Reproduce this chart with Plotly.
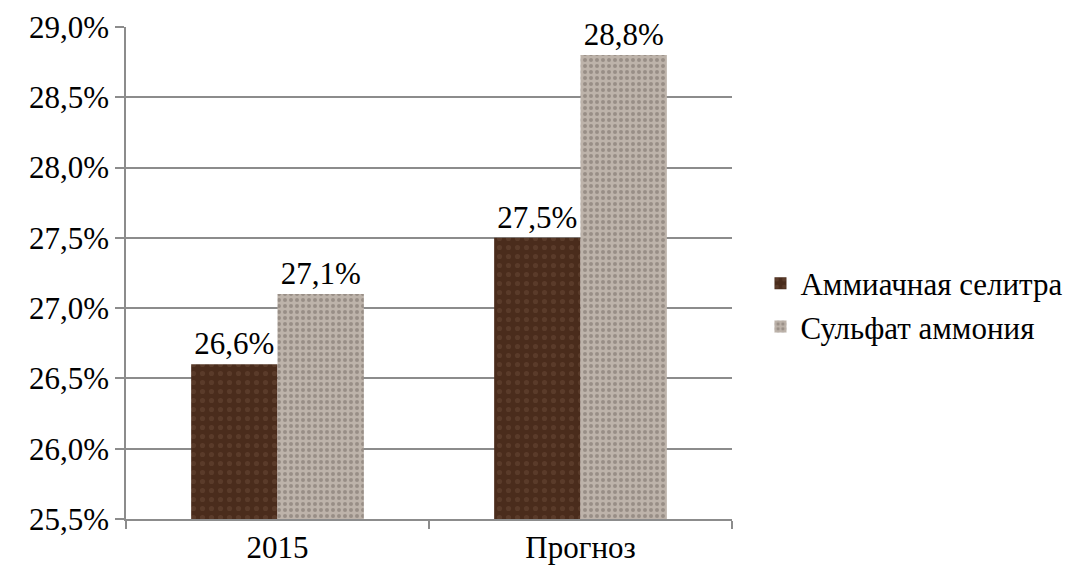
import plotly.graph_objects as go

categories = ["2015", "Прогноз"]
series_names = ["Аммиачная селитра", "Сульфат аммония"]
ammonium_nitrate = [26.6, 27.5]
ammonium_sulfate = [27.1, 28.8]
y_ticks = [25.5, 26.0, 26.5, 27.0, 27.5, 28.0, 28.5, 29.0]
y_tick_labels = ["25,5%", "26,0%", "26,5%", "27,0%", "27,5%", "28,0%", "28,5%", "29,0%"]

FONT = "Liberation Serif"

def lab(v):
    return f"{v:.1f}%".replace(".", ",")

fig = go.Figure()
fig.add_trace(go.Bar(
    name=series_names[0], x=categories, y=ammonium_nitrate,
    marker=dict(color="#4a2c1c", line=dict(width=0),
                pattern=dict(shape=".", fgcolor="#6a4a38", bgcolor="#4a2c1c", size=9, solidity=0.25)),
    text=[lab(v) for v in ammonium_nitrate],
    textposition="outside", textfont=dict(family=FONT, size=31, color="black"),
    cliponaxis=False,
))
fig.add_trace(go.Bar(
    name=series_names[1], x=categories, y=ammonium_sulfate,
    marker=dict(color="#b4aaa0", line=dict(width=0),
                pattern=dict(shape=".", fgcolor="#746a62", bgcolor="#bdb3aa", size=6, solidity=0.35)),
    text=[lab(v) for v in ammonium_sulfate],
    textposition="outside", textfont=dict(family=FONT, size=31, color="black"),
    cliponaxis=False,
))

fig.update_layout(
    width=1072, height=576,
    paper_bgcolor="white", plot_bgcolor="white",
    margin=dict(l=118, r=348, t=19, b=65, autoexpand=False),
    barmode="group", bargap=0.43, bargroupgap=0,
    font=dict(family=FONT, size=31, color="black"),
    showlegend=True,
    legend=dict(x=1.047, y=0.435, xanchor="left", yanchor="middle",
                font=dict(family=FONT, size=31, color="black"),
                itemsizing="constant", tracegroupgap=26, bgcolor="rgba(0,0,0,0)"),
    xaxis=dict(
        type="category", showgrid=False, showline=True, linecolor="#8c8c8c", linewidth=1.5,
        ticks="outside", tickson="boundaries", ticklen=8, tickcolor="#8c8c8c", tickwidth=1.5,
        tickfont=dict(family=FONT, size=31, color="black"), automargin=False,
    ),
    yaxis=dict(
        range=[25.5, 29.0], tickvals=y_ticks, ticktext=y_tick_labels,
        showgrid=True, gridcolor="#8c8c8c", gridwidth=1.5,
        showline=True, linecolor="#8c8c8c", linewidth=1.5,
        ticks="outside", ticklen=9, tickcolor="#8c8c8c", tickwidth=1.5,
        tickfont=dict(family=FONT, size=31, color="black"),
        zeroline=False, automargin=False,
    ),
)

post_js = """
var fix = function(){
  document.querySelectorAll('svg text').forEach(function(t){
    t.style.setProperty('font-family', "'Liberation Serif', serif", 'important');
  });
};
fix();
setTimeout(fix, 50);
"""

fig.write_html("out.html", post_script=post_js)
